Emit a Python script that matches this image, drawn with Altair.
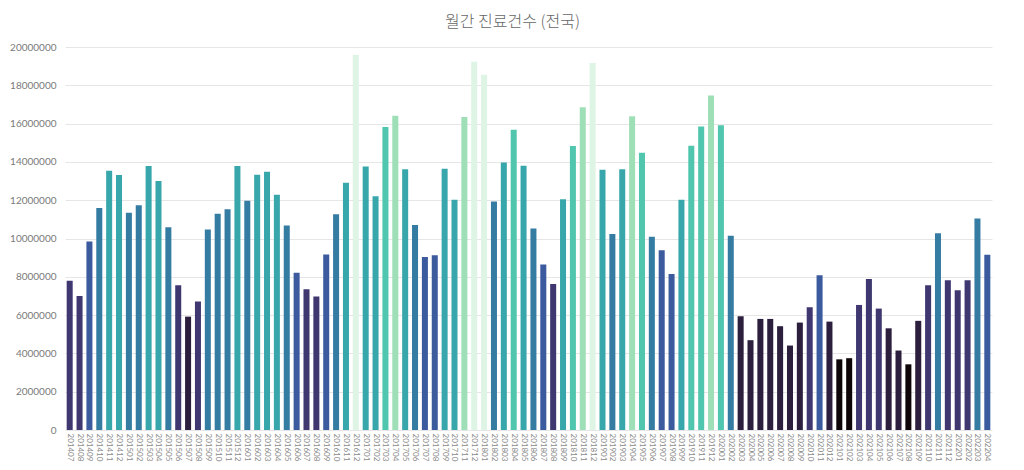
import altair as alt
import pandas as pd

months = [
    "201407", "201408", "201409", "201410", "201411", "201412",
    "201501", "201502", "201503", "201504", "201505", "201506",
    "201507", "201508", "201509", "201510", "201511", "201512",
    "201601", "201602", "201603", "201604", "201605", "201606",
    "201607", "201608", "201609", "201610", "201611", "201612",
    "201701", "201702", "201703", "201704", "201705", "201706",
    "201707", "201708", "201709", "201710", "201711", "201712",
    "201801", "201802", "201803", "201804", "201805", "201806",
    "201807", "201808", "201809", "201810", "201811", "201812",
    "201901", "201902", "201903", "201904", "201905", "201906",
    "201907", "201908", "201909", "201910", "201911", "201912",
    "202001", "202002", "202003", "202004", "202005", "202006",
    "202007", "202008", "202009", "202010", "202011", "202012",
    "202101", "202102", "202103", "202104", "202105", "202106",
    "202107", "202108", "202109", "202110", "202111", "202112",
    "202201", "202202", "202203", "202204",
]

counts = [
    7800000, 7000000, 9840000, 11590000, 13540000, 13310000,
    11340000, 11740000, 13780000, 13000000, 10590000, 7560000,
    5920000, 6710000, 10470000, 11290000, 11530000, 13780000,
    11970000, 13330000, 13480000, 12280000, 10680000, 8210000,
    7350000, 6970000, 9160000, 11270000, 12910000, 19580000,
    13760000, 12210000, 15820000, 16410000, 13620000, 10710000,
    9040000, 9130000, 13640000, 12030000, 16340000, 19230000,
    18550000, 11930000, 13970000, 15680000, 13800000, 10520000,
    8640000, 7630000, 12050000, 14830000, 16860000, 19160000,
    13590000, 10230000, 13610000, 16380000, 14480000, 10090000,
    9390000, 8140000, 12020000, 14840000, 15850000, 17470000,
    15910000, 10140000, 5940000, 4690000, 5800000, 5800000,
    5420000, 4410000, 5610000, 6410000, 8080000, 5660000,
    3690000, 3750000, 6530000, 7890000, 6340000, 5310000,
    4150000, 3430000, 5700000, 7560000, 10280000, 7820000,
    7300000, 7820000, 11050000, 9150000,
]

color_breaks = [4000000, 6000000, 8000000, 10000000, 12000000, 14000000, 16000000, 18000000]
palette = ["#0d0507", "#2c1e3d", "#3f3870", "#3c5a9e", "#357ca3",
           "#38a7ac", "#4fc6ad", "#9fdfb7", "#def5e5"]
y_ticks = [0, 2000000, 4000000, 6000000, 8000000, 10000000,
           12000000, 14000000, 16000000, 18000000, 20000000]

df = pd.DataFrame({"month": months, "count": counts})

chart = alt.Chart(df).mark_bar().encode(
    x=alt.X("month:N", sort=months,
            scale=alt.Scale(paddingInner=0.39, paddingOuter=0.17),
            axis=alt.Axis(title=None, labelAngle=90, labelFontSize=8,
                          labelColor="#8a8a8a", labelFont="Lato",
                          domain=False, ticks=False, labelPadding=3)),
    y=alt.Y("count:Q", scale=alt.Scale(domain=[0, 20000000], nice=False),
            axis=alt.Axis(title=None, values=y_ticks, format="d",
                          labelFontSize=10, labelColor="#7a7a7a", labelFont="Lato",
                          domain=False, ticks=False, tickSize=0, labelPadding=9,
                          gridColor="#e6e6e6", gridWidth=1)),
    color=alt.Color("count:Q",
                    scale=alt.Scale(type="threshold", domain=color_breaks, range=palette),
                    legend=None),
).properties(
    width=927,
    height=383,
    title=alt.TitleParams("월간 진료건수 (전국)", font="Noto Sans CJK KR",
                          fontSize=16, fontWeight=300, color="#666666",
                          anchor="middle", dx=-16, offset=12),
    autosize=alt.AutoSizeParams(type="none"),
    padding={"left": 57, "top": 39, "right": 24, "bottom": 32},
).configure_view(stroke=None)

chart.save("out.html", embed_options={"renderer": "svg", "actions": False})
